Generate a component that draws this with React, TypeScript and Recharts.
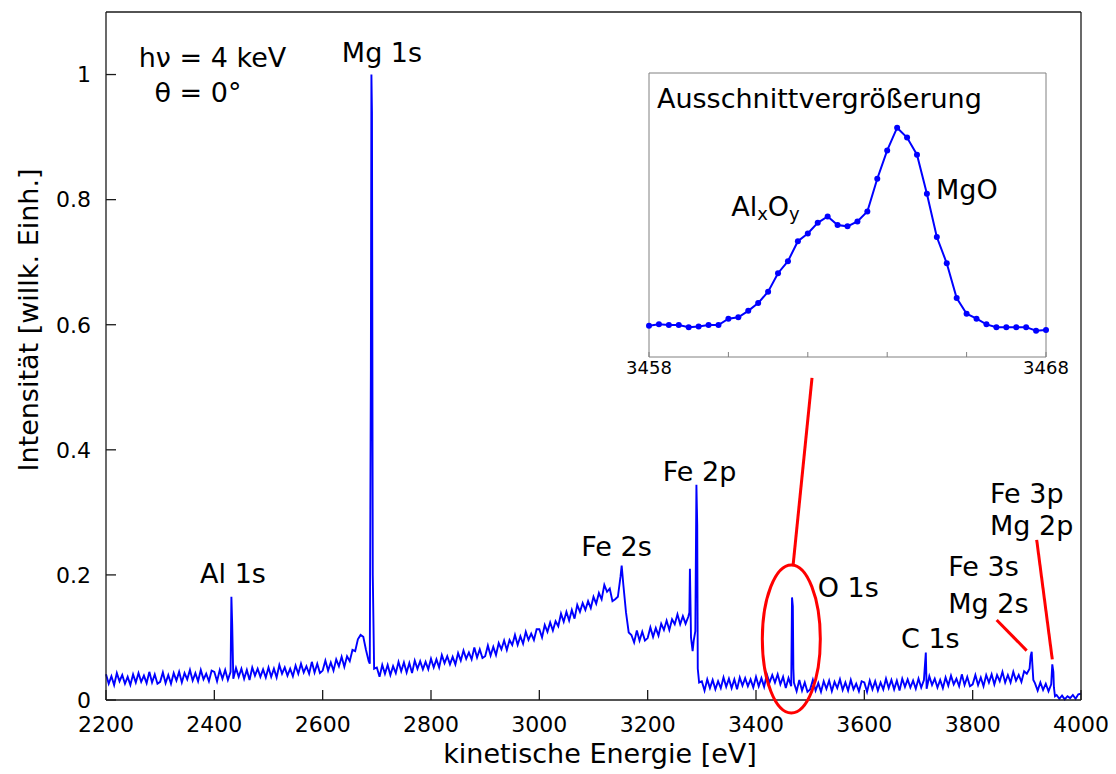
import { LineChart, Line, XAxis, YAxis, ReferenceLine, ReferenceDot } from "recharts";

// survey spectrum, one reading every 5 eV from 2200 to 4000 eV (intensity x 1000)
const E_START = 2200;
const E_STEP = 5;
const background = [
  41, 26, 38, 24, 43, 30, 40, 26, 37, 24, 41, 28, 43, 29, 39, 27, 45, 28, 41, 26,
  29, 44, 27, 40, 26, 43, 31, 45, 28, 43, 33, 48, 31, 43, 30, 48, 33, 42, 30, 47,
  45, 30, 48, 34, 48, 32, 45, 34, 51, 37, 50, 34, 48, 32, 52, 39, 50, 37, 49, 36,
  52, 37, 50, 36, 56, 42, 52, 39, 50, 38, 55, 42, 58, 44, 54, 42, 61, 44, 58, 43,
  47, 63, 47, 60, 47, 65, 54, 69, 53, 70, 62, 80, 78, 97, 104, 101, 80, 62, 1000, 50,
  52, 37, 56, 42, 56, 40, 54, 43, 61, 46, 60, 44, 59, 43, 63, 50, 62, 49, 61, 49,
  66, 52, 65, 52, 72, 59, 70, 57, 69, 57, 75, 63, 79, 66, 76, 65, 84, 68, 81, 67,
  70, 87, 71, 85, 72, 91, 81, 95, 80, 96, 88, 104, 88, 102, 90, 109, 96, 106, 96, 113,
  113, 100, 120, 109, 124, 111, 126, 118, 138, 125, 141, 127, 144, 130, 152, 141, 155, 144, 158, 147,
  165, 154, 171, 161, 184, 173, 178, 158, 161, 165, 198, 185, 140, 108, 104, 92, 111, 95, 109, 95,
  99, 116, 101, 115, 103, 122, 112, 127, 112, 129, 121, 137, 121, 134, 122, 133, 100, 95, 344, 28,
  30, 15, 33, 19, 32, 17, 30, 19, 36, 21, 34, 19, 33, 17, 36, 23, 35, 22, 33, 20,
  37, 22, 35, 21, 41, 28, 40, 28, 41, 25, 37, 19, 35, 22, 28, 14, 32, 15, 28, 13,
  17, 32, 15, 27, 13, 30, 18, 31, 14, 29, 19, 33, 16, 28, 15, 32, 17, 26, 14, 30,
  28, 13, 31, 17, 30, 15, 28, 17, 34, 19, 32, 17, 31, 15, 34, 21, 33, 20, 31, 18,
  34, 20, 32, 18, 38, 24, 34, 20, 32, 19, 36, 23, 39, 25, 34, 22, 41, 24, 37, 22,
  25, 40, 24, 36, 22, 40, 28, 41, 25, 40, 30, 45, 28, 40, 28, 45, 31, 40, 29, 46,
  42, 50, 60, 27, 15, 28, 16, 26, 14, 25, 20, 8, 2, 7, 1, 6, 3, 8, 2, 9,
  10,
];

// extra readings on the narrow core-level lines [eV, intensity x 1000]
const peakPoints: [number, number][] = [
  [2431.5, 165], [2433, 120],
  [2687, 58], [2689, 530], [2691, 940], [2692.5, 200],
  [3152, 215],
  [3277, 140], [3278, 210], [3279.5, 130], [3283, 78], [3288, 110], [3291.5, 280], [3292.5, 50],
  [3466.5, 164], [3468, 150], [3469, 50],
  [3713.5, 76],
  [3907, 70], [3909, 77], [3912, 32],
  [3947, 57], [3949, 45], [3952, 6],
];

// zoomed O 1s region, one reading every 0.25 eV from 3458 eV
const INSET_START = 3458;
const INSET_STEP = 0.25;
const insetIntensity = [
  0.44, 0.46, 0.45, 0.45, 0.42, 0.43, 0.45, 0.45, 0.54, 0.56,
  0.65, 0.76, 0.92, 1.18, 1.35, 1.63, 1.74, 1.89, 1.98, 1.86,
  1.84, 1.91, 2.05, 2.51, 2.91, 3.23, 3.09, 2.85, 2.3, 1.69,
  1.32, 0.83, 0.61, 0.54, 0.46, 0.42, 0.42, 0.42, 0.42, 0.37,
  0.38,
];

const xTicks = [2200, 2400, 2600, 2800, 3000, 3200, 3400, 3600, 3800, 4000];
const yTicks = [0, 0.2, 0.4, 0.6, 0.8, 1];
const insetXTicks = [3458, 3460, 3462, 3464, 3466, 3468];
const insetXLabels = [3458, 3468];
const insetYTicks = [1, 2, 3];

const peakLabels = [
  { text: "hν = 4 keV", e: 2396.6, i: 1.028, anchor: "middle" },
  { text: "θ = 0°", e: 2369.8, i: 0.972, anchor: "middle" },
  { text: "Mg 1s", e: 2709.5, i: 1.035, anchor: "middle" },
  { text: "Al 1s", e: 2434.5, i: 0.203, anchor: "middle" },
  { text: "Fe 2s", e: 3142.5, i: 0.246, anchor: "middle" },
  { text: "Fe 2p", e: 3295.7, i: 0.366, anchor: "middle" },
  { text: "O 1s", e: 3570.4, i: 0.18, anchor: "middle" },
  { text: "C 1s", e: 3721.8, i: 0.098, anchor: "middle" },
  { text: "Fe 3s", e: 3755, i: 0.213, anchor: "start" },
  { text: "Mg 2s", e: 3755, i: 0.155, anchor: "start" },
  { text: "Fe 3p", e: 3832, i: 0.33, anchor: "start" },
  { text: "Mg 2p", e: 3832, i: 0.279, anchor: "start" },
];

const pointerLines: [number, number, number, number][] = [
  [3468.3, 0.214, 3503.4, 0.515],
  [3844.3, 0.128, 3899.7, 0.079],
  [3918.2, 0.256, 3947.0, 0.065],
];
const o1sMark = { e: 3465.2, i: 0.0976 };

const spectrum = [
  ...background.map((v, k) => ({ e: E_START + k * E_STEP, i: v / 1000 })),
  ...peakPoints.map(([e, v]) => ({ e, i: v / 1000 })),
].sort((a, b) => a.e - b.e);

const inset = insetIntensity.map((v, k) => ({ e: INSET_START + k * INSET_STEP, i: v }));

const FONT = "'DejaVu Sans', Verdana, sans-serif";
const RED = "#f00";
const BLUE = "#0000ff";
const AXIS = "#1a1a1a";
const textStyle = { fontFamily: FONT, fontSize: 27, fill: "#000" };

const textShape = (text: string, anchor: string) => (p: any) => (
  <text x={p.cx} y={p.cy} textAnchor={anchor} dominantBaseline="central" style={textStyle}>
    {text}
  </text>
);

function Inset() {
  const tickStyle = { fontFamily: FONT, fontSize: 18, fill: "#000" };
  return (
    <div style={{ position: "absolute", left: 592, top: 52 }}>
      <LineChart width={500} height={340} data={inset} margin={{ top: 12, right: 53, bottom: 13, left: 0 }}>
        <XAxis
          type="number"
          dataKey="e"
          domain={[3458, 3468]}
          ticks={insetXTicks}
          interval={0}
          height={30}
          tickSize={-5}
          tickMargin={9}
          stroke="#808080"
          tick={tickStyle}
          tickFormatter={(v: number) => (insetXLabels.includes(v) ? String(v) : "")}
        />
        <XAxis xAxisId="top" orientation="top" type="number" domain={[3458, 3468]} ticks={insetXTicks} interval={0} height={1} tickSize={-5} tick={false} stroke="#808080" />
        <YAxis type="number" domain={[0, 4]} ticks={insetYTicks} interval={0} width={49} tickSize={-5} tick={false} stroke="#808080" />
        <YAxis yAxisId="right" orientation="right" type="number" domain={[0, 4]} ticks={insetYTicks} interval={0} width={1} tickSize={-5} tick={false} stroke="#808080" />
        <ReferenceDot x={3458.2} y={3.644} r={0} shape={textShape("Ausschnittvergrößerung", "start")} />
        <ReferenceDot
          x={3460.07}
          y={2.12}
          r={0}
          shape={(p: any) => (
            <text x={p.cx} y={p.cy} dominantBaseline="central" style={textStyle}>
              Al<tspan fontSize={18} dy={7}>x</tspan>
              <tspan dy={-7}>O</tspan>
              <tspan fontSize={18} dy={7}>y</tspan>
            </text>
          )}
        />
        <ReferenceDot x={3465.23} y={2.356} r={0} shape={textShape("MgO", "start")} />
        <Line
          type="linear"
          dataKey="i"
          stroke={BLUE}
          strokeWidth={2}
          dot={{ r: 3, fill: BLUE, stroke: "none" }}
          isAnimationActive={false}
        />
      </LineChart>
    </div>
  );
}

export default function App() {
  const tickStyle = { fontFamily: FONT, fontSize: 22, fill: "#000" };
  return (
    <div style={{ position: "relative", width: 1100, height: 766, background: "#fff" }}>
      <LineChart width={1100} height={766} data={spectrum} margin={{ top: 3, right: 26, bottom: 14, left: 0 }}>
        <XAxis
          type="number"
          dataKey="e"
          domain={[2200, 4000]}
          ticks={xTicks}
          interval={0}
          height={60}
          tickSize={-10}
          tickMargin={26}
          stroke={AXIS}
          strokeWidth={1.3}
          tick={tickStyle}
          label={() => (
            <text x={592} y={755} textAnchor="middle" style={textStyle}>
              kinetische Energie [eV]
            </text>
          )}
        />
        <XAxis xAxisId="top" orientation="top" type="number" domain={[2200, 4000]} ticks={xTicks} interval={0} height={1} tickSize={-10} tick={false} stroke={AXIS} strokeWidth={1.3} />
        <YAxis
          type="number"
          domain={[0, 1.1]}
          ticks={yTicks}
          interval={0}
          width={98}
          tickSize={-10}
          tickMargin={25}
          stroke={AXIS}
          strokeWidth={1.3}
          tick={tickStyle}
          label={() => (
            <text x={20} y={312} transform="rotate(-90 20 312)" textAnchor="middle" dominantBaseline="central" style={textStyle}>
              Intensität [willk. Einh.]
            </text>
          )}
        />
        <YAxis yAxisId="right" orientation="right" type="number" domain={[0, 1.1]} ticks={yTicks} interval={0} width={1} tickSize={-10} tick={false} stroke={AXIS} strokeWidth={1.3} />
        <Line type="linear" dataKey="i" stroke={BLUE} strokeWidth={1.9} dot={false} isAnimationActive={false} />
        {pointerLines.map(([x1, y1, x2, y2], k) => (
          <ReferenceLine key={`p${k}`} segment={[{ x: x1, y: y1 }, { x: x2, y: y2 }]} stroke={RED} strokeWidth={3} />
        ))}
        <ReferenceDot
          x={o1sMark.e}
          y={o1sMark.i}
          r={0}
          shape={(p: any) => <ellipse cx={p.cx} cy={p.cy} rx={29} ry={74} fill="none" stroke={RED} strokeWidth={3} />}
        />
        {peakLabels.map((l) => (
          <ReferenceDot key={l.text} x={l.e} y={l.i} r={0} shape={textShape(l.text, l.anchor)} />
        ))}
      </LineChart>
      <Inset />
    </div>
  );
}
